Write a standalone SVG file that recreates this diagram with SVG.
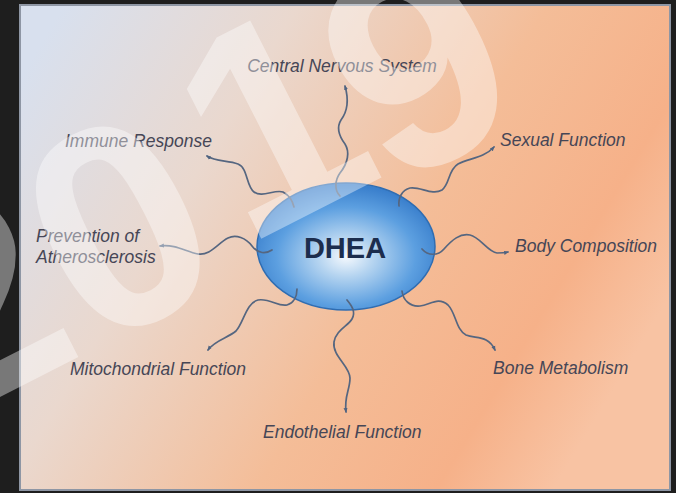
<svg xmlns="http://www.w3.org/2000/svg" width="676" height="493" viewBox="0 0 676 493">
<defs>
<linearGradient id="bg" x1="0" y1="0.15" x2="1" y2="0.6">
<stop offset="0" stop-color="#d8e0ee"/>
<stop offset="0.3" stop-color="#ead8ce"/>
<stop offset="0.62" stop-color="#f4bd98"/>
<stop offset="0.85" stop-color="#f6b189"/>
<stop offset="1" stop-color="#f8c3a3"/>
</linearGradient>
<radialGradient id="ell" cx="0.5" cy="0.58" r="0.56">
<stop offset="0" stop-color="#f5f9fd"/>
<stop offset="0.28" stop-color="#b5d4f0"/>
<stop offset="0.7" stop-color="#5c9fe0"/>
<stop offset="1" stop-color="#3a7fcc"/>
</radialGradient>
<marker id="arr" viewBox="0 0 10 10" refX="8" refY="5" markerWidth="5" markerHeight="5" orient="auto" markerUnits="userSpaceOnUse">
<path d="M0,1 L10,5 L0,9 Z" fill="#4f6380"/>
</marker>
<style>
.lbl{font-family:"Liberation Sans",Arial,sans-serif;font-style:italic;font-size:17.5px;fill:#464656}
.con{fill:none;stroke:#556680;stroke-width:1.7;stroke-linecap:round;marker-end:url(#arr)}
.wm{font-family:"Liberation Sans",Arial,sans-serif;font-weight:bold;font-size:290px;fill:#ffffff;fill-opacity:0.4}
</style>
</defs>
<rect x="0" y="0" width="676" height="493" fill="#1e1e1e"/>
<rect x="20" y="5" width="650" height="485" fill="url(#bg)" stroke="#8e96a4" stroke-width="2"/>
<g id="dhea">
<ellipse cx="346" cy="246.5" rx="89" ry="63.5" fill="url(#ell)" stroke="#2f6db2" stroke-width="1.5"/>
<text x="345" y="258" text-anchor="middle" font-family="Liberation Sans, Arial, sans-serif" font-weight="bold" font-size="29" fill="#1c2d4d">DHEA</text>
</g>
<g id="connectors">
<path class="con" d="M 340 196 C 334 190, 335 180, 340 173 C 348 163, 350 152, 345 144 C 339 136, 336 128, 341 120 C 347 112, 349 100, 345 86"/>
<path class="con" d="M 294 207 C 292 200, 290 196, 283 192 C 275 189, 262 198, 254 192 C 246 186, 248 168, 238 164 C 228 160, 216 162, 207 156"/>
<path class="con" d="M 399 206 C 398 198, 402 190, 410 188 C 420 186, 432 196, 442 190 C 450 184, 448 170, 458 164 C 470 158, 484 158, 494 147"/>
<path class="con" d="M 272 250 C 266 254, 258 254, 252 246 C 246 238, 236 234, 228 238 C 218 243, 210 256, 198 254 C 186 252, 176 244, 160 246"/>
<path class="con" d="M 422 249 C 428 256, 438 256, 444 249 C 452 240, 460 233, 470 235 C 480 237, 488 252, 497 253 C 500 253, 504 253, 508 252"/>
<path class="con" d="M 297 289 C 297 296, 294 303, 287 305 C 278 307, 270 298, 258 300 C 246 303, 244 322, 236 331 C 228 338, 215 340, 208 350"/>
<path class="con" d="M 347 300 C 352 306, 356 312, 352 319 C 348 326, 336 330, 334 342 C 332 356, 350 366, 350 378 C 350 390, 344 396, 346 412"/>
<path class="con" d="M 402 291 C 403 300, 410 307, 420 306 C 430 305, 438 296, 448 305 C 456 313, 456 330, 466 335 C 476 339, 488 335, 495 350"/>
</g>
<g id="cns"><text class="lbl" x="342" y="72" text-anchor="middle">Central Nervous System</text></g>
<g id="immune"><text class="lbl" x="65" y="147">Immune Response</text></g>
<g id="sexual"><text class="lbl" x="500" y="146">Sexual Function</text></g>
<g id="prevention"><text class="lbl" x="36" y="242">Prevention of</text><text class="lbl" x="36" y="263">Atherosclerosis</text></g>
<g id="body"><text class="lbl" x="515" y="252">Body Composition</text></g>
<g id="mito"><text class="lbl" x="70" y="375">Mitochondrial Function</text></g>
<g id="bone"><text class="lbl" x="493" y="374">Bone Metabolism</text></g>
<g id="endo"><text class="lbl" x="263" y="438">Endothelial Function</text></g>
<g id="watermark">
<text class="wm" transform="translate(-55,425) rotate(-27)">2</text>
<text class="wm" transform="translate(92,352) rotate(-27)">0</text>
<text class="wm" transform="translate(245,247) rotate(-27)">1</text>
<text class="wm" transform="translate(390,190) rotate(-27)">9</text>
</g>
</svg>
